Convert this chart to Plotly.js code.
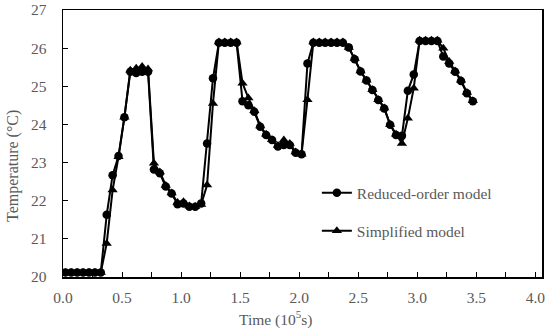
<!DOCTYPE html>
<html>
<head>
<meta charset="utf-8">
<script src="https://cdn.plot.ly/plotly-3.0.1.min.js"></script>
<style>html,body{margin:0;padding:0;background:#fff;}#chart{width:550px;height:331px;}</style>
</head>
<body>
<div id="chart"></div>
<script>
// Time (10^5 s)
const time = [0.02,0.07,0.12,0.17,0.22,0.27,0.32,0.37,0.42,0.47,
  0.52,0.57,0.62,0.67,0.72,0.77,0.82,0.87,0.92,0.97,
  1.02,1.07,1.12,1.17,1.22,1.27,1.32,1.37,1.42,1.47,
  1.52,1.57,1.62,1.67,1.72,1.77,1.82,1.87,1.92,1.97,
  2.02,2.07,2.12,2.17,2.22,2.27,2.32,2.37,2.42,2.47,
  2.52,2.57,2.62,2.67,2.72,2.77,2.82,2.87,2.92,2.97,
  3.02,3.07,3.12,3.17,3.22,3.27,3.32,3.37,3.42,3.47];
// Reduced-order model temperature (°C)
const reducedOrder = [20.12,20.12,20.12,20.12,20.12,20.12,20.12,21.63,22.67,23.17,
  24.19,25.38,25.35,25.38,25.38,22.82,22.72,22.37,22.19,21.91,
  21.93,21.84,21.84,21.93,23.50,25.21,26.14,26.14,26.14,26.14,
  24.61,24.50,24.33,23.94,23.72,23.59,23.42,23.46,23.46,23.26,
  23.22,25.60,26.14,26.14,26.14,26.14,26.14,26.14,26.02,25.71,
  25.39,25.15,24.90,24.64,24.42,23.99,23.72,23.70,24.88,25.31,
  26.19,26.19,26.19,26.19,25.78,25.60,25.38,25.14,24.82,24.61];
// Simplified model temperature (°C)
const simplified = [20.12,20.12,20.12,20.12,20.12,20.12,20.12,20.88,22.28,23.15,
  24.19,25.42,25.47,25.52,25.45,22.98,22.75,22.40,22.20,21.95,
  21.97,21.86,21.85,21.90,22.41,24.55,26.16,26.16,26.16,26.16,
  25.08,24.69,24.36,23.96,23.74,23.60,23.45,23.59,23.50,23.28,
  23.22,24.65,26.16,26.16,26.16,26.16,26.16,26.16,26.02,25.73,
  25.40,25.16,24.91,24.65,24.43,24.00,23.74,23.50,24.16,24.95,
  26.21,26.21,26.21,26.21,26.00,25.65,25.40,25.16,24.84,24.62];
const xTickVals = [0,0.5,1,1.5,2,2.5,3,3.5,4];
const xTickText = ["0.0","0.5","1.0","1.5","2.0","2.5","3.0","3.5","4.0"];
const yTickVals = [20,21,22,23,24,25,26,27];

const FONT = "Liberation Serif, Times New Roman, serif";
const TXT = "#595959";

const traces = [
  {x: time, y: reducedOrder, name: "Reduced-order model", type: "scatter", mode: "lines+markers",
   legendgroup: "a",
   line: {color: "#000", width: 2}, marker: {symbol: "circle", size: 8.5, color: "#000"}},
  {x: time, y: simplified, name: "Simplified model", type: "scatter", mode: "lines+markers",
   legendgroup: "b",
   line: {color: "#000", width: 2}, marker: {symbol: "triangle-up", size: 9, color: "#000"}}
];

const layout = {
  width: 550, height: 331,
  margin: {l: 63, r: 8, t: 10, b: 54},
  paper_bgcolor: "#fff", plot_bgcolor: "#fff",
  font: {family: FONT, size: 15.5, color: TXT},
  showlegend: true,
  legend: {x: 0.53, xanchor: "left", y: 0.243, yanchor: "middle",
           bgcolor: "rgba(0,0,0,0)", tracegroupgap: 15,
           font: {family: FONT, size: 15.5, color: TXT}},
  xaxis: {range: [0, 4.056], tickmode: "array", tickvals: xTickVals, ticktext: xTickText,
          ticks: "inside", ticklen: 5, tickwidth: 1, tickcolor: "#000",
          minor: {dtick: 0.25, ticks: "inside", ticklen: 5, tickwidth: 1, tickcolor: "#000", showgrid: false},
          showgrid: false, zeroline: false, showline: true, linecolor: "#000", linewidth: 1.5,
          mirror: true, ticklabelstandoff: 6,
          tickfont: {family: FONT, size: 15.5, color: TXT}},
  yaxis: {range: [20, 27], tickmode: "array", tickvals: yTickVals,
          ticks: "inside", ticklen: 5, tickwidth: 1, tickcolor: "#000",
          showgrid: false, zeroline: false, showline: true, linecolor: "#000", linewidth: 1.5,
          mirror: true, ticklabelstandoff: 12,
          tickfont: {family: FONT, size: 15.5, color: TXT}},
  annotations: [
    {xref: "paper", yref: "paper", x: (275-63)/479, y: -(318-277)/267, xanchor: "center", yanchor: "middle",
     showarrow: false, text: "Time (10<sup>5</sup>s)", font: {family: FONT, size: 15.5, color: TXT}},
    {xref: "paper", yref: "paper", x: -(63-13)/479, y: (277-166)/267, xanchor: "center", yanchor: "middle",
     showarrow: false, textangle: -90, text: "Temperature (°C)", font: {family: FONT, size: 16, color: TXT}}
  ]
};

Plotly.newPlot("chart", traces, layout, {displayModeBar: false, staticPlot: true});
</script>
</body>
</html>
